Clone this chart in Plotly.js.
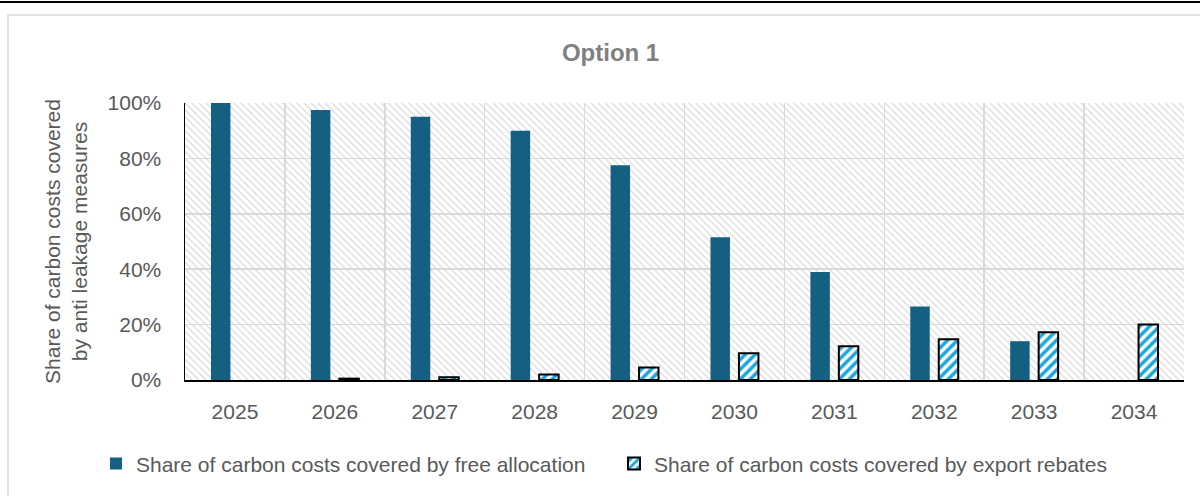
<!DOCTYPE html>
<html>
<head>
<meta charset="utf-8">
<script src="https://cdn.plot.ly/plotly-3.0.1.min.js"></script>
<style>
  html, body { margin: 0; padding: 0; background: #ffffff; }
  #chart { width: 1200px; height: 496px; }
</style>
</head>
<body>
<div id="chart"></div>
<script>
// Years on the category axis
const years = ['2025', '2026', '2027', '2028', '2029', '2030', '2031', '2032', '2033', '2034'];

// Share of carbon costs covered by free allocation (fraction)
const freeAllocation = [1.00, 0.975, 0.95, 0.90, 0.775, 0.515, 0.39, 0.265, 0.14, null];

// Share of carbon costs covered by export rebates (fraction)
const exportRebates = [null, 0.005, 0.01, 0.02, 0.045, 0.097, 0.122, 0.147, 0.172, 0.20];

// Series names and value-axis ticks
const seriesNames = [
  'Share of carbon costs covered by free allocation',
  'Share of carbon costs covered by export rebates'
];
const yTickVals = [0, 0.2, 0.4, 0.6, 0.8, 1.0];

const FONT = '"Liberation Sans", Arial, sans-serif';
const TEXT_GREY = '#595959';

// Plot-area hatch: light diagonal lines on white
const hatchSvg =
  "<svg xmlns='http://www.w3.org/2000/svg' width='999' height='280'>" +
  "<defs><pattern id='h' width='7' height='7' patternUnits='userSpaceOnUse'>" +
  "<path d='M-1,-1L8,8M-1,6L1,8M6,-1L8,1' stroke='#dcdcdc' stroke-width='1.3'/>" +
  "</pattern></defs><rect width='100%' height='100%' fill='#ffffff'/>" +
  "<rect width='100%' height='100%' fill='url(#h)'/></svg>";
const hatchSrc = 'data:image/svg+xml;charset=utf-8,' + encodeURIComponent(hatchSvg);

const legendFont = { family: FONT, size: 21, color: TEXT_GREY };

const traces = [
  {
    type: 'bar',
    name: seriesNames[0],
    x: years,
    y: freeAllocation,
    marker: { color: '#156082', line: { width: 0 } },
    legend: 'legend',
    showlegend: true,
    hoverinfo: 'x+y'
  },
  {
    type: 'bar',
    name: seriesNames[1],
    x: years,
    y: exportRebates,
    marker: {
      color: '#18a6e0',
      line: { color: '#000000', width: 2 },
      pattern: {
        shape: '/',
        fillmode: 'replace',
        fgcolor: '#18a6e0',
        bgcolor: '#ffffff',
        size: 7,
        solidity: 0.5
      }
    },
    legend: 'legend2',
    showlegend: true,
    hoverinfo: 'x+y'
  }
];

const layout = {
  width: 1200,
  height: 496,
  margin: { l: 185, r: 16, t: 103, b: 113 },
  paper_bgcolor: '#ffffff',
  plot_bgcolor: '#ffffff',
  font: { family: FONT, size: 21, color: TEXT_GREY },
  showlegend: true,
  barmode: 'group',
  bargap: 0.43,
  bargroupgap: 0.316,
  title: {
    text: '<b>Option 1</b>',
    font: { family: FONT, size: 24, color: '#808080' },
    xref: 'container',
    yref: 'container',
    x: 0.5088,
    xanchor: 'center',
    y: 0.893,
    yanchor: 'middle'
  },
  xaxis: {
    type: 'category',
    categoryorder: 'array',
    categoryarray: years,
    tickson: 'boundaries',
    ticks: '',
    showgrid: true,
    gridcolor: '#d9d9d9',
    gridwidth: 1.5,
    showline: true,
    linecolor: '#000000',
    linewidth: 2,
    tickfont: { family: FONT, size: 21, color: TEXT_GREY },
    ticklabelstandoff: 12,
    fixedrange: true
  },
  yaxis: {
    range: [0, 1],
    tickvals: yTickVals,
    tickformat: '.0%',
    ticks: '',
    showgrid: true,
    gridcolor: '#d9d9d9',
    gridwidth: 1.5,
    zeroline: false,
    showline: true,
    linecolor: '#000000',
    linewidth: 1.5,
    tickfont: { family: FONT, size: 21, color: TEXT_GREY },
    ticklabelstandoff: 18,
    automargin: true,
    title: {
      text: 'Share of carbon costs covered<br>by anti leakage measures',
      font: { family: FONT, size: 21, color: TEXT_GREY },
      standoff: 14
    },
    fixedrange: true
  },
  legend: {
    visible: true,
    orientation: 'h',
    x: -0.0891,
    xanchor: 'left',
    y: -0.303,
    yanchor: 'middle',
    font: legendFont,
    bgcolor: 'rgba(0,0,0,0)'
  },
  legend2: {
    visible: true,
    orientation: 'h',
    x: 0.4294,
    xanchor: 'left',
    y: -0.303,
    yanchor: 'middle',
    font: legendFont,
    bgcolor: 'rgba(0,0,0,0)'
  },
  images: [
    {
      source: hatchSrc,
      xref: 'x domain',
      yref: 'y domain',
      x: 0,
      y: 1,
      sizex: 1,
      sizey: 1,
      xanchor: 'left',
      yanchor: 'top',
      sizing: 'stretch',
      layer: 'below'
    }
  ],
  shapes: [
    // chart frame
    {
      type: 'rect', xref: 'paper', yref: 'paper',
      x0: -0.1772, x1: 1.03, y0: -0.46, y1: 1.3179,
      line: { color: '#d9d9d9', width: 1.5 },
      fillcolor: 'rgba(0,0,0,0)',
      layer: 'below'
    },
    // rule along the top edge of the page
    {
      type: 'line', xref: 'paper', yref: 'paper',
      x0: -0.2, x1: 1.05, y0: 1.3643, y1: 1.3643,
      line: { color: '#000000', width: 2 }
    }
  ]
};

Plotly.newPlot('chart', traces, layout, { displayModeBar: false, staticPlot: true });
</script>
</body>
</html>
